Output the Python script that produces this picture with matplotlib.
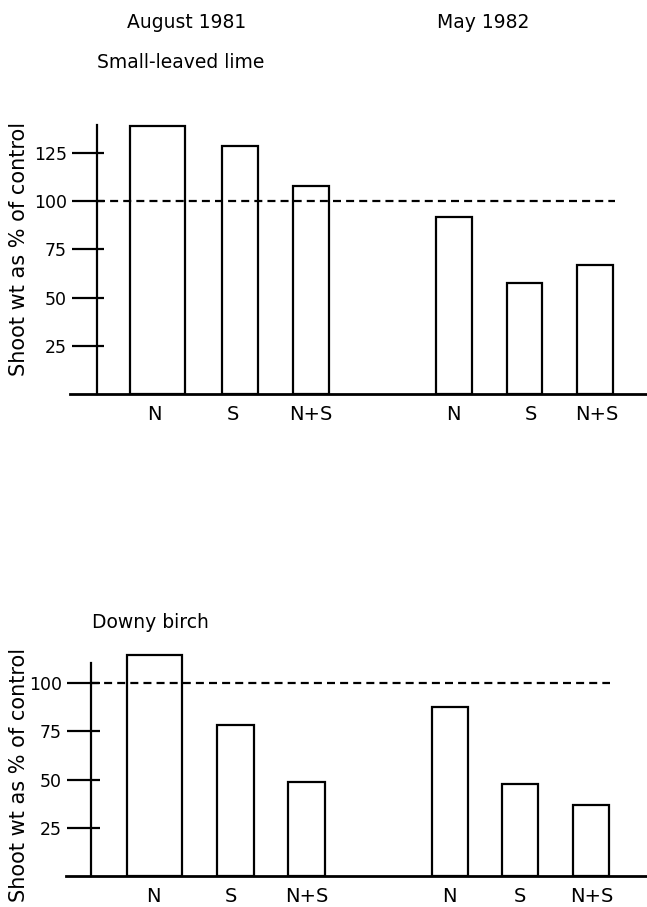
import matplotlib
matplotlib.use("Agg")
import matplotlib.pyplot as plt

plt.rcParams['font.family'] = ['DejaVu Sans']

# ---- data ----
treatments = ["N", "S", "N+S", "N", "S", "N+S"]
periods = ["August 1981", "May 1982"]
species = ["Small-leaved lime", "Downy birch"]
lime_values = [139, 128.5, 108, 92, 57.5, 67]
birch_values = [114.5, 78.5, 48.5, 87.5, 47.5, 37]
lime_ticks = [25, 50, 75, 100, 125]
birch_ticks = [25, 50, 75, 100]
control_level = 100
ylabel = "Shoot wt as % of control"

W, H = 647, 907
fig = plt.figure(figsize=(W / 100, H / 100), dpi=100)

# layout (pixel-like units along x)
panels = [
    dict(values=lime_values, ticks=lime_ticks, base=394.3, scale=1.932, ymax=145,
         axis_x=96.7, axis_top=139.4, tick_l=72, tick_r=104, base_l=70,
         centers=[157.5, 240, 311.3, 453.8, 524.2, 595],
         widths=[55, 36.6, 36, 35.7, 35, 36.6],
         labelx=[154, 233, 311, 453, 531, 597], dash_end=615, xpad=8),
    dict(values=birch_values, ticks=birch_ticks, base=876, scale=1.928, ymax=118,
         axis_x=90.7, axis_top=110.3, tick_l=67, tick_r=100, base_l=66,
         centers=[154.5, 235.3, 306.7, 450.3, 520.3, 591.3],
         widths=[54.4, 37.3, 36.7, 36, 36, 36],
         labelx=[153, 231, 307, 449, 520, 592], dash_end=610, xpad=8),
]

lw = 1.6
for p in panels:
    bottom = 1 - p['base'] / H
    height = p['ymax'] * p['scale'] / H
    ax = fig.add_axes([0, bottom, 1, height])
    ax.set_xlim(0, W)
    ax.set_ylim(0, p['ymax'])
    ax.patch.set_alpha(0)
    ax.bar(p['centers'], p['values'], width=p['widths'], fill=False,
           edgecolor='black', linewidth=lw, zorder=3)
    ax.hlines(control_level, p['axis_x'], p['dash_end'], colors='black',
              linewidth=lw, linestyles=(0, (3.6, 2.3)), zorder=2)
    ax.hlines(p['ticks'], p['tick_l'], p['tick_r'], colors='black',
              linewidth=lw, clip_on=False)
    for s in ['top', 'right']:
        ax.spines[s].set_visible(False)
    ax.spines['left'].set_position(('data', p['axis_x']))
    ax.spines['left'].set_bounds(0, p['axis_top'])
    ax.spines['left'].set_linewidth(lw)
    ax.spines['bottom'].set_bounds(p['base_l'], W)
    ax.spines['bottom'].set_linewidth(2)
    ax.set_yticks(p['ticks'])
    ax.set_yticklabels([str(t) for t in p['ticks']], fontsize=12.5)
    ax.tick_params(axis='y', length=0, pad=(p['axis_x'] - p['tick_l'] + 5) * 0.72)
    ax.set_xticks(p['labelx'])
    ax.set_xticklabels(treatments, fontsize=14)
    ax.tick_params(axis='x', length=0, pad=p['xpad'])

def px(x, y):
    return x / W, 1 - y / H

fig.text(*px(187, 23), periods[0], fontsize=13.5, ha='center', va='center')
fig.text(*px(483, 23), periods[1], fontsize=13.5, ha='center', va='center')
fig.text(*px(97, 62), species[0], fontsize=13.5, ha='left', va='center')
fig.text(*px(92, 623), species[1], fontsize=13.5, ha='left', va='center')
fig.text(*px(19, 249), ylabel, fontsize=15, rotation=90, ha='center', va='center')
fig.text(*px(19, 775), ylabel, fontsize=15, rotation=90, ha='center', va='center')

fig.savefig("out.png", dpi=100)
